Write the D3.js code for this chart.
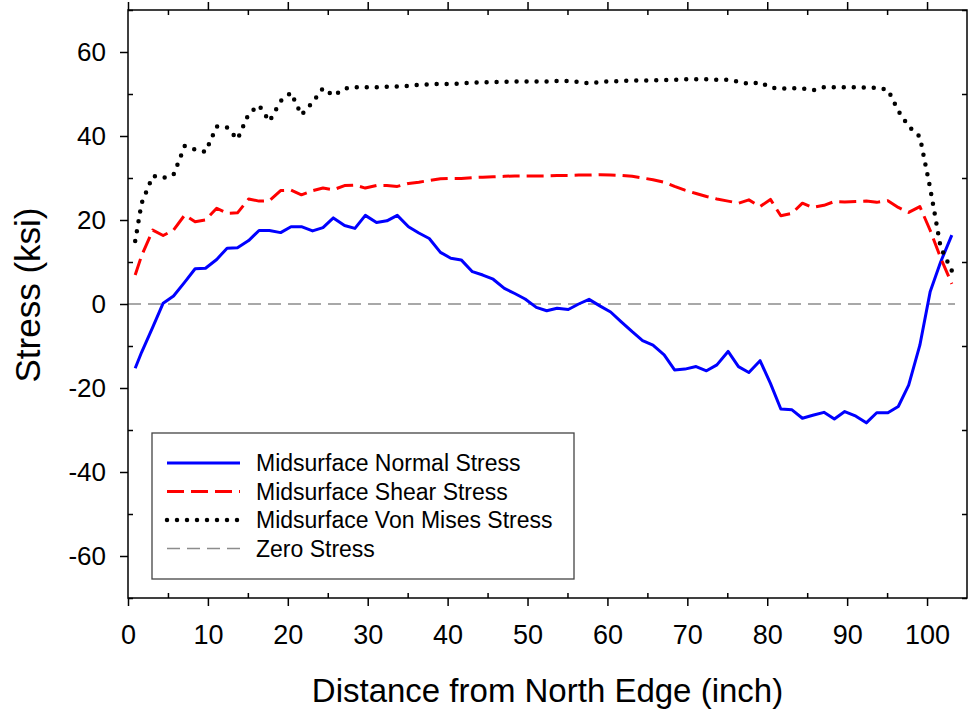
<!DOCTYPE html>
<html>
  <head>
    <meta charset="utf-8">
    <script src="https://d3js.org/d3.v7.min.js"></script>
    <style>
      body { margin: 0; background: #fff; }
      svg { font-family: "Liberation Sans", Arial, sans-serif; }
      .axis path { display: none; }
      .axis line { stroke: #000; stroke-width: 1.5; }
      .axis text { fill: #000; }
      .xaxis text { font-size: 27px; }
      .yaxis text { font-size: 26px; }
    </style>
  </head>
  <body>
    <script>
      // distance from north edge (inch)
      var distance = [0.9, 1.7, 3.1, 4.4, 5.7, 7.1, 8.4, 9.7, 11.1, 12.4, 13.7, 15.1, 16.4, 17.7, 19.1, 20.4,
        21.7, 23.1, 24.4, 25.7, 27.1, 28.4, 29.7, 31.1, 32.4, 33.7, 35.1, 36.4, 37.7, 39.1, 40.4, 41.7,
        43.1, 44.4, 45.7, 47.1, 48.4, 49.7, 51.1, 52.4, 53.7, 55.1, 56.4, 57.7, 59.1, 60.4, 61.7, 63.1,
        64.4, 65.7, 67.1, 68.4, 69.7, 71.1, 72.4, 73.7, 75.1, 76.4, 77.7, 79.1, 80.4, 81.7, 83.1, 84.4,
        85.7, 87.1, 88.4, 89.7, 91.1, 92.4, 93.7, 95.1, 96.4, 97.7, 99.1, 100.4, 101.7, 103.1];

      var normalStress = [-15.3, -11.5, -5.5, 0.2, 1.9, 5.2, 8.4, 8.5, 10.6, 13.3, 13.4, 15.1, 17.5, 17.5, 17.0, 18.4,
        18.4, 17.4, 18.2, 20.5, 18.7, 18.0, 21.1, 19.4, 19.8, 21.1, 18.4, 16.9, 15.6, 12.3, 10.9, 10.5,
        7.7, 6.9, 5.9, 3.7, 2.5, 1.2, -0.8, -1.6, -1.0, -1.3, 0.0, 1.1, -0.5, -1.9, -4.2, -6.6,
        -8.7, -9.8, -12.1, -15.7, -15.5, -14.9, -15.9, -14.5, -11.3, -14.9, -16.3, -13.5, -18.9, -25.0, -25.2, -27.2,
        -26.5, -25.8, -27.4, -25.6, -26.7, -28.3, -25.9, -25.9, -24.4, -19.3, -9.8, 3.0, 10.0, 16.4];

      var shearStress = [6.9, 11.5, 17.6, 16.3, 17.6, 21.2, 19.6, 20.0, 22.8, 21.6, 21.7, 25.0, 24.5, 24.6, 27.0, 27.1,
        26.0, 27.0, 27.6, 27.2, 28.2, 28.3, 27.6, 28.2, 28.2, 28.0, 28.7, 29.0, 29.4, 29.8, 29.9, 29.9,
        30.1, 30.2, 30.3, 30.4, 30.5, 30.5, 30.5, 30.5, 30.6, 30.6, 30.7, 30.7, 30.8, 30.7, 30.6, 30.4,
        30.0, 29.6, 29.0, 28.0, 27.1, 26.3, 25.6, 25.0, 24.5, 24.0, 24.8, 23.2, 24.9, 21.0, 21.6, 24.0,
        23.0, 23.5, 24.4, 24.3, 24.4, 24.5, 24.2, 24.6, 23.0, 21.8, 23.2, 17.5, 11.0, 4.8];

      var vonMisesStress = [15.0, 24.0, 30.5, 30.0, 30.8, 37.6, 36.8, 36.2, 42.3, 42.0, 39.2, 45.3, 47.3, 43.5, 48.3, 50.3,
        45.0, 48.0, 51.4, 49.6, 51.3, 51.6, 51.6, 51.6, 51.7, 51.8, 51.9, 52.2, 52.3, 52.4, 52.4, 52.5,
        52.7, 52.8, 52.8, 52.9, 53.0, 53.0, 53.0, 53.0, 53.1, 53.1, 52.9, 52.5, 52.9, 53.0, 53.1, 53.2,
        53.2, 53.3, 53.3, 53.4, 53.5, 53.5, 53.5, 53.4, 53.4, 52.9, 52.4, 52.8, 51.5, 51.3, 51.4, 51.3,
        50.9, 51.6, 51.6, 51.6, 51.6, 51.5, 51.5, 51.0, 46.0, 42.3, 39.8, 27.5, 13.5, 7.9];

      var xMajorTicks = [0, 10, 20, 30, 40, 50, 60, 70, 80, 90, 100];
      var xMinorTicks = [5, 15, 25, 35, 45, 55, 65, 75, 85, 95];
      var yMajorTicks = [-60, -40, -20, 0, 20, 40, 60];
      var yMinorTicks = [-70, -50, -30, -10, 10, 30, 50, 70];

      var seriesNames = ["Midsurface Normal Stress", "Midsurface Shear Stress",
        "Midsurface Von Mises Stress", "Zero Stress"];

      var margin = { top: 10, right: 1, bottom: 117, left: 128 },
        width = 968 - margin.left - margin.right,
        height = 715 - margin.top - margin.bottom;

      var svg = d3.select("body").append("svg")
        .attr("width", 968)
        .attr("height", 715);

      var g = svg.append("g")
        .attr("transform", "translate(" + margin.left + "," + margin.top + ")");

      var x = d3.scaleLinear().domain([0, 105]).range([0, width]);
      var y = d3.scaleLinear().domain([-70, 70]).range([height, 0]);

      var plain = function(d) { return String(d); };   // hyphen minus, as in the original

      // axes: major ticks out, minor ticks in, on all four sides
      g.append("g").attr("class", "axis xaxis")
        .attr("transform", "translate(0," + height + ")")
        .call(d3.axisBottom(x).tickValues(xMajorTicks).tickSize(8).tickPadding(19).tickFormat(plain));
      g.append("g").attr("class", "axis")
        .attr("transform", "translate(0," + height + ")")
        .call(d3.axisBottom(x).tickValues(xMinorTicks).tickSize(-5).tickFormat(""));
      g.append("g").attr("class", "axis")
        .call(d3.axisTop(x).tickValues(xMajorTicks).tickSize(8).tickFormat(""));
      g.append("g").attr("class", "axis")
        .call(d3.axisTop(x).tickValues(xMinorTicks).tickSize(-5).tickFormat(""));

      g.append("g").attr("class", "axis yaxis")
        .call(d3.axisLeft(y).tickValues(yMajorTicks).tickSize(8).tickPadding(14).tickFormat(plain));
      g.append("g").attr("class", "axis")
        .call(d3.axisLeft(y).tickValues(yMinorTicks).tickSize(-5).tickFormat(""));
      g.append("g").attr("class", "axis")
        .attr("transform", "translate(" + width + ",0)")
        .call(d3.axisRight(y).tickValues(yMinorTicks).tickSize(-5).tickFormat(""));

      // zero line
      g.append("line")
        .attr("x1", x(0)).attr("x2", x(103.5))
        .attr("y1", y(0)).attr("y2", y(0))
        .attr("stroke", "#8c8c8c")
        .attr("stroke-width", 1.5)
        .attr("stroke-dasharray", "13 7");

      var line = function(values) {
        return d3.line()
          .x(function(d, i) { return x(distance[i]); })
          .y(function(d) { return y(d); })(values);
      };

      var styles = [
        { color: "#0000ff", width: 3, dash: null, cap: "butt" },
        { color: "#ff0000", width: 3, dash: "17 7", cap: "butt" },
        { color: "#000000", width: 4.5, dash: "0 10", cap: "round" },
        { color: "#8c8c8c", width: 1.5, dash: "13 7", cap: "butt" }
      ];

      [normalStress, shearStress, vonMisesStress].forEach(function(values, i) {
        g.append("path")
          .attr("d", line(values))
          .attr("fill", "none")
          .attr("stroke", styles[i].color)
          .attr("stroke-width", styles[i].width)
          .attr("stroke-linecap", styles[i].cap)
          .attr("stroke-linejoin", "round")
          .attr("stroke-dasharray", styles[i].dash);
      });

      // frame
      g.append("rect")
        .attr("width", width).attr("height", height)
        .attr("fill", "none")
        .attr("stroke", "#000")
        .attr("stroke-width", 1.5);

      // legend
      var legend = svg.append("g").attr("transform", "translate(152,433)");
      legend.append("rect")
        .attr("width", 422).attr("height", 146)
        .attr("fill", "#fff")
        .attr("stroke", "#444")
        .attr("stroke-width", 1.3);
      seriesNames.forEach(function(name, i) {
        var yy = 30 + i * 28.5;
        legend.append("line")
          .attr("x1", 15).attr("x2", 88)
          .attr("y1", yy).attr("y2", yy)
          .attr("stroke", styles[i].color)
          .attr("stroke-width", styles[i].width)
          .attr("stroke-linecap", styles[i].cap)
          .attr("stroke-dasharray", styles[i].dash);
        legend.append("text")
          .attr("x", 104).attr("y", yy)
          .attr("dy", "0.36em")
          .style("font-size", "23px")
          .text(name);
      });

      // axis titles
      svg.append("text")
        .attr("x", margin.left + width / 2)
        .attr("y", 702)
        .attr("text-anchor", "middle")
        .style("font-size", "33px")
        .text("Distance from North Edge (inch)");
      svg.append("text")
        .attr("transform", "translate(40,295) rotate(-90)")
        .attr("text-anchor", "middle")
        .style("font-size", "35px")
        .text("Stress (ksi)");
    </script>
  </body>
</html>
